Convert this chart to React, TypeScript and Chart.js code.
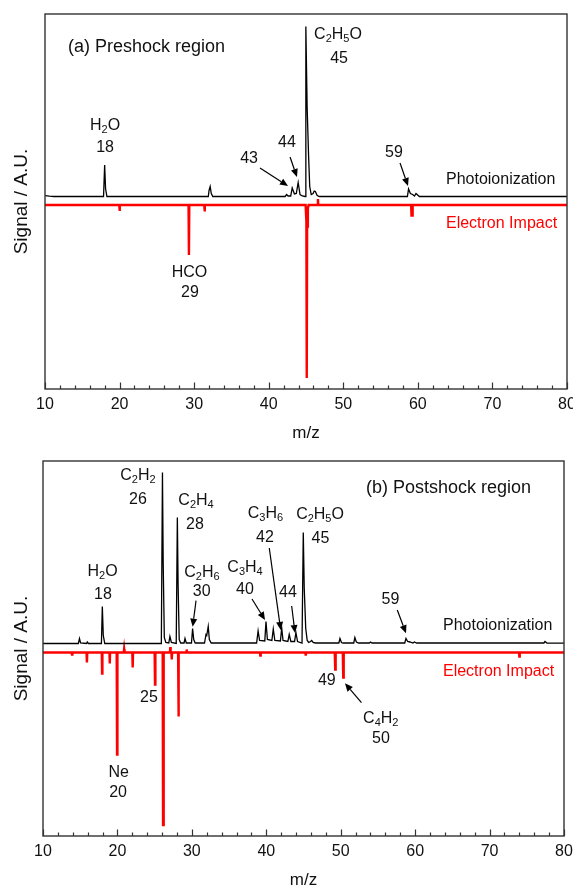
import React, { useEffect, useRef } from 'react';
import { Chart, registerables } from 'chart.js';

Chart.register(...registerables);

const FONT = '"Liberation Sans", Arial, Helvetica, sans-serif';

// ---- axes ----
const xTickValues = [10, 20, 30, 40, 50, 60, 70, 80];
const xTickLabels = ['10', '20', '30', '40', '50', '60', '70', '80'];
const xMinorTicks = [12, 14, 16, 18, 22, 24, 26, 28, 32, 34, 36, 38, 42, 44, 46, 48, 52, 54, 56, 58, 62, 64, 66, 68, 72, 74, 76, 78];
const xAxisTitle = 'm/z';
const yAxisTitle = 'Signal / A.U.';

// ---- (a) preshock region: [m/z, signal] ----
const preshockPhotoionization: [number, number][] = [
  [10, 0.8], [10.6, 0.3], [11.2, 0],
  [17.85, 0], [18.0, 31.5], [18.12, 8], [18.3, 0],
  [31.9, 0], [32.0, 6], [32.15, 10], [32.3, 3], [32.5, 0],
  [42.2, 0], [42.4, 2], [42.6, 0.5],
  [42.95, 0.5], [43.15, 8.5], [43.45, 2.5], [43.7, 3], [43.95, 14], [44.2, 2], [44.5, 0.5],
  [44.88, 0], [44.98, 170], [45.15, 90], [45.35, 40], [45.5, 10], [45.7, 2],
  [45.95, 3], [46.1, 5.5], [46.25, 5], [46.5, 1], [46.8, 0],
  [58.6, 0], [58.75, 7.5], [59.0, 3], [59.3, 2], [59.55, 0.5], [59.75, 3], [59.9, 2], [60.2, 0],
  [80, 0],
];

const preshockElectronImpact: [number, number][] = [
  [10, -8.5],
  [19.95, -8.5], [20.0, -14.5], [20.05, -8.5],
  [29.25, -8.5], [29.3, -58.5], [29.35, -8.5],
  [31.35, -8.5], [31.4, -15], [31.45, -8.5],
  [44.95, -8.5], [45.05, -25], [45.1, -181.5], [45.15, -30], [45.25, -12], [45.35, -8.5],
  [46.55, -8.5], [46.6, -2.5], [46.65, -8.5],
  [59.1, -8.5], [59.15, -19], [59.25, -19], [59.3, -8.5],
  [80, -8.5],
];

// ---- (b) postshock region: [m/z, signal] ----
const postshockPhotoionization: [number, number][] = [
  [10, 0],
  [14.75, 0], [14.9, 5], [15.05, 0.5], [15.85, 0], [15.95, 1.5], [16.1, 0],
  [17.85, 0], [17.97, 37], [18.1, 8], [18.3, 0],
  [25.9, 0], [26.05, 171], [26.15, 80], [26.3, 6], [26.5, 1],
  [26.9, 0.5], [27.05, 7], [27.25, 1],
  [27.9, 0], [28.05, 126], [28.15, 60], [28.3, 4], [28.5, 0.5],
  [28.95, 0.5], [29.08, 5], [29.25, 0.5],
  [29.95, 0.5], [30.1, 15], [30.25, 4], [30.45, 0.5],
  [31.7, 0.5], [31.9, 9], [32.0, 8], [32.2, 17], [32.35, 4], [32.6, 0.5],
  [38.7, 0.5], [38.9, 12.5], [39.1, 3], [39.8, 2.5], [39.96, 22], [40.15, 4],
  [40.75, 3], [40.94, 14.5], [41.15, 3], [41.9, 2.5], [42.07, 15.5], [42.25, 3],
  [42.9, 2], [43.08, 9], [43.3, 2], [43.8, 2], [43.98, 11], [44.2, 2],
  [44.8, 0.5], [44.97, 111], [45.1, 55], [45.3, 15], [45.5, 3], [45.7, 1],
  [45.95, 2], [46.1, 3], [46.3, 1], [46.6, 0.5],
  [49.75, 0.5], [49.9, 5], [50.1, 1], [50.3, 0.5],
  [51.75, 0.5], [51.9, 6], [52.1, 1.5], [52.4, 0.5],
  [53.85, 0.5], [54.0, 1.5], [54.2, 0.5],
  [58.6, 0.5], [58.77, 5], [59.0, 2], [59.3, 1.5], [59.7, 0.5], [59.9, 1.5], [60.2, 0.5],
  [77.3, 0.5], [77.45, 2], [77.7, 0.5],
  [80, 0.3],
];

const postshockElectronImpact: [number, number][] = [
  [10, -9],
  [13.85, -9], [13.9, -11], [13.95, -9],
  [15.85, -9], [15.9, -19], [15.95, -9],
  [17.9, -9], [17.94, -30], [17.98, -9],
  [18.93, -9], [18.97, -20], [19.01, -9],
  [19.9, -9], [19.95, -111], [20.0, -9],
  [20.85, -9], [20.9, -5.5], [20.95, -9],
  [22.0, -9], [22.05, -24], [22.1, -9],
  [25.0, -9], [25.05, -41], [25.1, -9],
  [26.08, -9], [26.13, -181.5], [26.18, -20], [26.25, -9],
  [27.05, -9], [27.1, -3.5], [27.15, -9], [27.25, -9], [27.3, -16], [27.35, -9],
  [28.15, -9], [28.2, -73], [28.25, -9],
  [29.25, -9], [29.3, -6], [29.35, -9],
  [39.15, -9], [39.2, -12], [39.25, -9],
  [45.25, -9], [45.3, -12], [45.35, -9],
  [49.2, -9], [49.26, -26], [49.32, -9],
  [50.28, -9], [50.34, -34], [50.4, -9],
  [73.95, -9], [74.0, -13], [74.05, -9],
  [80, -9],
];

// ---- annotations (data coordinates) ----
type Label = { text: string; x: number; y: number; size?: number; align?: 'left' | 'center'; color?: string };
type Arrow = { from: [number, number]; to: [number, number] };

const RED = '#ff0000';

const preshockLabels: Label[] = [
  { text: '(a) Preshock region', x: 13.08, y: 149.5, size: 18, align: 'left' },
  { text: 'H2O', x: 18.05, y: 70.5 },
  { text: '18', x: 18.05, y: 48.5 },
  { text: '43', x: 37.36, y: 37.5 },
  { text: '44', x: 42.45, y: 53.5 },
  { text: 'C2H5O', x: 49.29, y: 161.5 },
  { text: '45', x: 49.43, y: 137.5 },
  { text: '59', x: 56.8, y: 43.5 },
  { text: 'Photoionization', x: 63.77, y: 16.5, align: 'left' },
  { text: 'Electron Impact', x: 63.77, y: -27.5, align: 'left', color: RED },
  { text: 'HCO', x: 29.38, y: -76.5 },
  { text: '29', x: 29.44, y: -96.5 },
];

const preshockArrows: Arrow[] = [
  { from: [38.83, 28.5], to: [42.59, 10.5] },
  { from: [42.86, 39.5], to: [43.79, 19.5] },
  { from: [57.61, 33.5], to: [58.68, 10.5] },
];

const postshockLabels: Label[] = [
  { text: '(b) Postshock region', x: 53.4, y: 155.2, size: 18, align: 'left' },
  { text: 'C2H2', x: 22.76, y: 167.5 },
  { text: '26', x: 22.76, y: 144.2 },
  { text: 'C2H4', x: 30.56, y: 142.5 },
  { text: '28', x: 30.42, y: 118.5 },
  { text: 'C2H6', x: 31.36, y: 70.8 },
  { text: '30', x: 31.32, y: 51.8 },
  { text: 'C3H4', x: 37.14, y: 75.5 },
  { text: '40', x: 37.14, y: 53.5 },
  { text: 'C3H6', x: 39.89, y: 129.5 },
  { text: '42', x: 39.83, y: 106.2 },
  { text: '44', x: 42.92, y: 50.5 },
  { text: 'C2H5O', x: 47.22, y: 128.5 },
  { text: '45', x: 47.28, y: 105.2 },
  { text: '59', x: 56.69, y: 43.5 },
  { text: 'H2O', x: 18.0, y: 71.8 },
  { text: '18', x: 18.06, y: 48.5 },
  { text: 'Photoionization', x: 63.74, y: 17.5, align: 'left' },
  { text: 'Electron Impact', x: 63.74, y: -28.2, align: 'left', color: RED },
  { text: '25', x: 24.24, y: -53.8 },
  { text: 'Ne', x: 20.16, y: -129.2 },
  { text: '20', x: 20.08, y: -148.8 },
  { text: '49', x: 48.13, y: -37.2 },
  { text: 'C4H2', x: 55.38, y: -74.8 },
  { text: '50', x: 55.41, y: -94.8 },
];

const postshockArrows: Arrow[] = [
  { from: [30.56, 42.8], to: [30.11, 16.8] },
  { from: [38.08, 44.5], to: [39.83, 23.5] },
  { from: [40.4, 95.5], to: [41.94, 13.5] },
  { from: [43.41, 37.5], to: [43.86, 10.5] },
  { from: [57.6, 33.5], to: [58.77, 10.2] },
  { from: [52.79, -59.2], to: [50.57, -39.8] },
];

function drawRich(ctx: CanvasRenderingContext2D, text: string, x: number, y: number, size: number, align: string, color: string) {
  const segs: { t: string; sub: boolean }[] = [];
  for (let i = 0; i < text.length; i++) {
    const ch = text[i];
    const prevSub = segs.length > 0 && segs[segs.length - 1].sub;
    const prev = i > 0 ? text[i - 1] : '';
    const sub = /\d/.test(ch) && (/[A-Za-z]/.test(prev) || (prevSub && /\d/.test(prev)));
    if (segs.length && segs[segs.length - 1].sub === sub) segs[segs.length - 1].t += ch;
    else segs.push({ t: ch, sub });
  }
  const main = `${size}px ${FONT}`;
  const small = `${Math.round(size * 0.68)}px ${FONT}`;
  let total = 0;
  const widths = segs.map((s) => {
    ctx.font = s.sub ? small : main;
    const w = ctx.measureText(s.t).width;
    total += w;
    return w;
  });
  let cx = align === 'left' ? x : x - total / 2;
  ctx.fillStyle = color;
  ctx.textAlign = 'left';
  ctx.textBaseline = 'middle';
  segs.forEach((s, i) => {
    ctx.font = s.sub ? small : main;
    ctx.fillText(s.t, cx, s.sub ? y + size * 0.27 : y);
    cx += widths[i];
  });
}

function makeDecor(labels: Label[], arrows: Arrow[]) {
  return {
    id: 'panelDecor',
    afterDatasetsDraw(chart: any) {
      const { ctx, chartArea: a, scales } = chart;
      const xs = scales.x;
      const ys = scales.y;
      ctx.save();
      // frame
      ctx.strokeStyle = '#333333';
      ctx.lineWidth = 1.4;
      ctx.strokeRect(a.left, a.top, a.right - a.left, a.bottom - a.top);
      // inward ticks on bottom axis
      ctx.lineWidth = 1.2;
      ctx.beginPath();
      xMinorTicks.forEach((v) => {
        const px = Math.round(xs.getPixelForValue(v)) + 0.5;
        ctx.moveTo(px, a.bottom);
        ctx.lineTo(px, a.bottom - 3.5);
      });
      xTickValues.forEach((v) => {
        const px = Math.round(xs.getPixelForValue(v)) + 0.5;
        ctx.moveTo(px, a.bottom);
        ctx.lineTo(px, a.bottom - 6.5);
      });
      ctx.stroke();
      // tick labels
      ctx.fillStyle = '#111111';
      ctx.font = `16px ${FONT}`;
      ctx.textAlign = 'center';
      ctx.textBaseline = 'middle';
      xTickValues.forEach((v, i) => {
        ctx.fillText(xTickLabels[i], xs.getPixelForValue(v), a.bottom + 16);
      });
      // axis titles
      ctx.font = `17px ${FONT}`;
      ctx.fillText(xAxisTitle, (a.left + a.right) / 2, a.bottom + 44);
      ctx.save();
      ctx.translate(22, (a.top + a.bottom) / 2);
      ctx.rotate(-Math.PI / 2);
      ctx.font = `19px ${FONT}`;
      ctx.fillText(yAxisTitle, 0, 0);
      ctx.restore();
      // arrows
      ctx.strokeStyle = '#000000';
      ctx.fillStyle = '#000000';
      ctx.lineWidth = 1.2;
      arrows.forEach((ar) => {
        const x1 = xs.getPixelForValue(ar.from[0]);
        const y1 = ys.getPixelForValue(ar.from[1]);
        const x2 = xs.getPixelForValue(ar.to[0]);
        const y2 = ys.getPixelForValue(ar.to[1]);
        const ang = Math.atan2(y2 - y1, x2 - x1);
        const len = 8;
        const hw = 3.5;
        const bx = x2 - len * Math.cos(ang);
        const by = y2 - len * Math.sin(ang);
        ctx.beginPath();
        ctx.moveTo(x1, y1);
        ctx.lineTo(bx, by);
        ctx.stroke();
        ctx.beginPath();
        ctx.moveTo(x2, y2);
        ctx.lineTo(bx + hw * Math.sin(ang), by - hw * Math.cos(ang));
        ctx.lineTo(bx - hw * Math.sin(ang), by + hw * Math.cos(ang));
        ctx.closePath();
        ctx.fill();
      });
      // labels
      labels.forEach((l) => {
        drawRich(ctx, l.text, xs.getPixelForValue(l.x), ys.getPixelForValue(l.y), l.size || 16, l.align || 'center', l.color || '#111111');
      });
      ctx.restore();
    },
  };
}

function makeChart(canvas: HTMLCanvasElement, pi: [number, number][], ei: [number, number][], labels: Label[], arrows: Arrow[], padding: any) {
  return new Chart(canvas, {
    type: 'line',
    data: {
      datasets: [
        {
          label: 'Photoionization',
          data: pi.map(([x, y]) => ({ x, y })),
          borderColor: '#000000',
          borderWidth: 1.3,
          pointRadius: 0,
          tension: 0,
          fill: false,
        },
        {
          label: 'Electron Impact',
          data: ei.map(([x, y]) => ({ x, y })),
          borderColor: RED,
          borderWidth: 2.4,
          pointRadius: 0,
          tension: 0,
          fill: false,
        },
      ],
    },
    options: {
      animation: false,
      responsive: false,
      devicePixelRatio: 1,
      layout: { padding },
      plugins: { legend: { display: false }, tooltip: { enabled: false } },
      scales: {
        x: { type: 'linear', min: 10, max: 80, display: false },
        y: { type: 'linear', min: -192.5, max: 182.5, display: false },
      },
    },
    plugins: [makeDecor(labels, arrows)],
  } as any);
}

export default function App() {
  const refA = useRef<HTMLCanvasElement>(null);
  const refB = useRef<HTMLCanvasElement>(null);
  useEffect(() => {
    document.body.style.margin = '0';
    const a = makeChart(refA.current!, preshockPhotoionization, preshockElectronImpact, preshockLabels, preshockArrows, { left: 45, right: 6, top: 14, bottom: 56 });
    const b = makeChart(refB.current!, postshockPhotoionization, postshockElectronImpact, postshockLabels, postshockArrows, { left: 43, right: 9, top: 16, bottom: 53 });
    return () => {
      a.destroy();
      b.destroy();
    };
  }, []);
  return (
    <div style={{ position: 'relative', width: 573, height: 889, background: '#ffffff' }}>
      <canvas ref={refA} width={573} height={445} style={{ display: 'block', width: 573, height: 445 }} />
      <canvas ref={refB} width={573} height={444} style={{ display: 'block', width: 573, height: 444 }} />
    </div>
  );
}
